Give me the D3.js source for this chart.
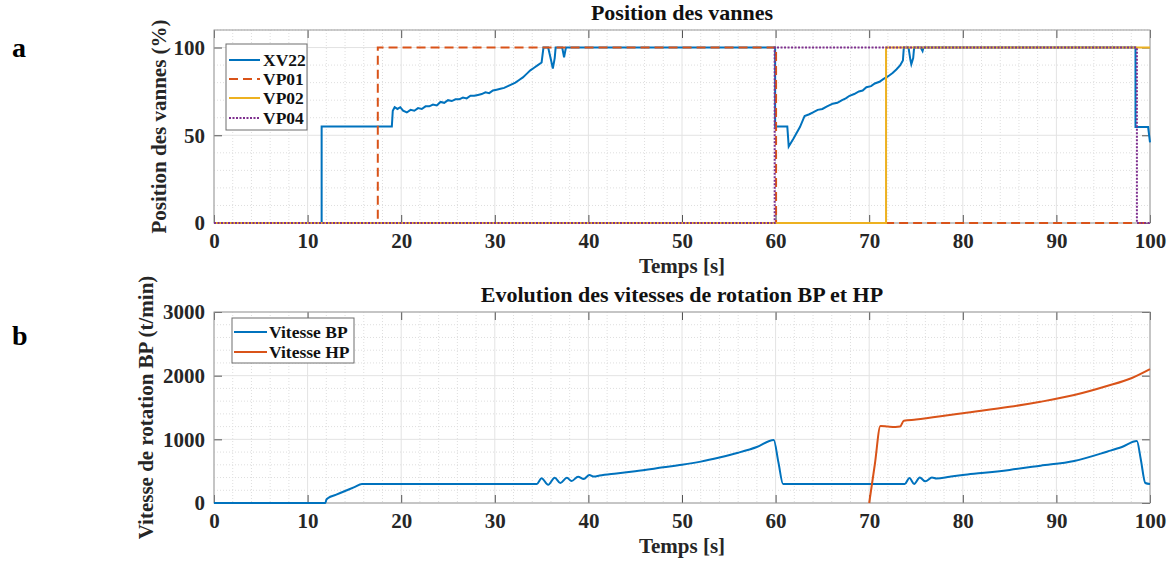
<!DOCTYPE html>
<html>
<meta charset='utf-8'>
<head>
<title>Position des vannes / vitesses</title>
<script src='https://d3js.org/d3.v7.min.js'></script>
<style>
  body { margin: 0; background: #fff; }
  text { font-family: 'Liberation Serif', 'Times New Roman', serif; font-weight: bold; }
</style>
</head>
<body>
<div id='chart'></div>
<script>
// ---- data ----
var xTicks = [0, 10, 20, 30, 40, 50, 60, 70, 80, 90, 100]
var topYTicks = [0, 50, 100]
var botYTicks = [0, 1000, 2000, 3000]

var xv22 = [[0,0],[11.5,0],[11.5,55],[19.0,55],[19.1,64],[19.3,66],[19.6,65],[19.9,66],[20.2,64],[20.6,63],
  [21.0,64.5],[21.4,64],[21.8,65.5],[22.2,65],[22.6,66.5],[23.0,66.5],[23.4,67.5],[23.8,67],[24.2,69],[24.6,68.5],
  [25.0,70],[25.4,69.5],[25.8,70.5],[26.2,70.5],[26.6,71.5],[27.0,71],[27.4,72.5],[27.8,72.5],[28.2,73],[28.6,73.5],
  [29.0,74.5],[29.4,74],[29.8,75.5],[30.2,76],[30.6,76.5],[31.0,77],[31.4,78],[31.8,79],[32.2,80],[32.6,81.5],
  [33.0,83],[33.4,85],[33.8,87],[34.2,88.5],[34.6,90],[35.0,91.5],[35.2,100],[35.7,100],[36.0,93],[36.2,88],
  [36.4,94],[36.5,100],[37.2,100],[37.4,94.5],[37.6,100],
  [59.95,100],[59.95,55],[61.25,55],[61.4,43.6],[61.9,48],[62.6,54.7],[63.1,61],[63.6,62],[64.0,63],[64.5,64.5],
  [65.0,65],[65.5,66.5],[66.1,68],[66.6,68.5],[67.1,70],[67.5,71],[67.9,72.5],[68.4,73.5],[68.9,75],[69.3,75.5],
  [69.7,77.4],[70.2,78],[70.6,79.5],[71.1,80.5],[71.5,82],[72.0,83.5],[72.5,85.5],[72.9,87.5],[73.3,89.8],[73.6,92.6],
  [73.7,100],[74.2,100],[74.4,93],[74.5,90.5],[74.7,94],[74.8,100],[75.5,100],[75.7,98],[75.8,100],
  [98.45,100],[98.45,54.7],[99.8,54.7],[100,46]]
var vp01 = [[0,0],[17.5,0],[17.5,100],[60.05,100],[60.05,0],[100,0]]
var vp02 = [[0,0],[71.8,0],[71.8,100],[100,100]]
var vp04 = [[0,0],[59.9,0],[59.9,100],[98.6,100],[98.6,0],[100,0]]

var vitesseBP = [[0,0],[11.75,0],[11.9,0],[12.0,50],[12.2,78],[13.0,127],[14.0,189],[15.0,250],[15.8,300],
  [34.5,300],[35.0,390],[35.7,285],[36.4,397],
  [37.0,314],[37.7,397],[38.2,345],[38.9,413],[39.5,376],[40.1,440],[40.6,415],[41.2,432],[43,465],[45,500],
  [48,560],[50,600],[52,650],[54,715],[56,790],[58,880],[59.8,990],[60.3,640],[60.8,298],[73.8,298],[74.3,392],[74.8,300],
  [75.4,400],[76.0,340],[76.7,400],[77.2,385],[78.6,413],[80,440],[82,470],[85,520],[88.3,586],[91.9,660],
  [95.4,806],[97,880],[98.6,973],[99.0,700],[99.5,314],[100,298]]
var vitesseHP = [[70.0,0],[70.6,605],[71.2,1209],[72.0,1200],[72.8,1194],[73.3,1200],[73.7,1292],[75,1310],[78.6,1381],
  [80,1410],[85,1510],[88.3,1590],[91.9,1695],[95.4,1837],[98,1960],[100,2103]]

var blue = '#0072BD', orange = '#D95319', yellow = '#EDB120', purple = '#7E2F8E'

var svg = d3.select('#chart').append('svg')
  .attr('width', 1176).attr('height', 565)

var x = d3.scaleLinear().domain([0, 100]).range([214, 1150])

function panel(top, bottom, ymax, yTicks, yMinor, title, ylabel, ylabelX) {
  var y = d3.scaleLinear().domain([0, ymax]).range([bottom, top])
  var g = svg.append('g')

  // minor grid
  g.selectAll('.mx').data(d3.range(0, 101, 2).filter(function(d){ return d % 10 })).enter()
    .append('line')
    .attr('x1', function(d){ return x(d) }).attr('x2', function(d){ return x(d) })
    .attr('y1', top).attr('y2', bottom)
    .attr('stroke', '#dedede').attr('stroke-dasharray', '1,2')
  g.selectAll('.my').data(d3.range(0, ymax + 1, yMinor).filter(function(d){ return yTicks.indexOf(d) < 0 })).enter()
    .append('line')
    .attr('x1', x(0)).attr('x2', x(100))
    .attr('y1', function(d){ return y(d) }).attr('y2', function(d){ return y(d) })
    .attr('stroke', '#dedede').attr('stroke-dasharray', '1,2')
  // major grid
  g.selectAll('.gx').data(xTicks).enter().append('line')
    .attr('x1', function(d){ return x(d) }).attr('x2', function(d){ return x(d) })
    .attr('y1', top).attr('y2', bottom)
    .attr('stroke', '#e3e3e3')
  g.selectAll('.gy').data(yTicks).enter().append('line')
    .attr('x1', x(0)).attr('x2', x(100))
    .attr('y1', function(d){ return y(d) }).attr('y2', function(d){ return y(d) })
    .attr('stroke', '#e3e3e3')

  // axes, ticks pointing inward
  var ax = g.append('g').attr('transform', 'translate(0,' + bottom + ')')
    .call(d3.axisBottom(x).tickValues(xTicks).tickFormat(d3.format('d')).tickSizeInner(-8).tickSizeOuter(0).tickPadding(10))
  var ay = g.append('g').attr('transform', 'translate(' + x(0) + ',0)')
    .call(d3.axisLeft(y).tickValues(yTicks).tickFormat(d3.format('d')).tickSizeInner(-8).tickSizeOuter(0).tickPadding(9))
  var at = g.append('g').attr('transform', 'translate(0,' + top + ')')
    .call(d3.axisTop(x).tickValues(xTicks).tickSizeInner(-8).tickSizeOuter(0).tickFormat(''))
  var ar = g.append('g').attr('transform', 'translate(' + x(100) + ',0)')
    .call(d3.axisRight(y).tickValues(yTicks).tickSizeInner(-8).tickSizeOuter(0).tickFormat(''))
  ;[ax, ay, at, ar].forEach(function(a) {
    a.select('.domain').remove()
    a.selectAll('line').attr('stroke', '#555')
    a.selectAll('text').attr('font-size', 21).attr('fill', '#262626')
      .attr('font-family', "'Liberation Serif', serif").attr('font-weight', 'bold')
  })

  g.append('rect').attr('x', x(0)).attr('y', top)
    .attr('width', x(100) - x(0)).attr('height', bottom - top)
    .attr('fill', 'none').attr('stroke', '#9a9a9a')

  g.append('text').attr('x', 682).attr('y', top - 10).attr('text-anchor', 'middle')
    .attr('font-size', 22).attr('fill', '#111').text(title)
  g.append('text').attr('x', 682).attr('y', bottom + 50).attr('text-anchor', 'middle')
    .attr('font-size', 21).attr('fill', '#262626').text('Temps [s]')
  g.append('text').attr('transform', 'translate(' + ylabelX + ',' + ((top + bottom) / 2) + ') rotate(-90)')
    .attr('text-anchor', 'middle').attr('font-size', 21).attr('fill', '#262626').text(ylabel)
  return { g: g, y: y }
}

function drawLine(p, data, color, dash, curve) {
  var line = d3.line()
    .x(function(d){ return x(d[0]) })
    .y(function(d){ return p.y(d[1]) })
    .curve(curve || d3.curveLinear)
  p.g.append('path').datum(data)
    .attr('d', line)
    .attr('fill', 'none').attr('stroke', color).attr('stroke-width', 2)
    .attr('stroke-dasharray', dash || null)
}

function legend(p, bx, by, bw, bh, items, rowY, lx0, lx1, tx) {
  p.g.append('rect').attr('x', bx).attr('y', by).attr('width', bw).attr('height', bh)
    .attr('fill', '#fff').attr('stroke', '#6e6e6e')
  items.forEach(function(it, i) {
    p.g.append('line').attr('x1', lx0).attr('x2', lx1).attr('y1', rowY[i]).attr('y2', rowY[i])
      .attr('stroke', it[1]).attr('stroke-width', 2).attr('stroke-dasharray', it[2] || null)
    p.g.append('text').attr('x', tx).attr('y', rowY[i]).attr('dy', '0.35em')
      .attr('font-size', 17.5).attr('fill', '#111').text(it[0])
  })
}

// ---- panel a ----
var pa = panel(30, 223, 110, topYTicks, 10, 'Position des vannes', 'Position des vannes (%)', 166)
drawLine(pa, xv22, blue)
drawLine(pa, vp01, orange, '9,5')
drawLine(pa, vp02, yellow)
drawLine(pa, vp04, purple, '2,1.5')
legend(pa, 226, 44, 81, 86,
  [['XV22', blue], ['VP01', orange, '9,5'], ['VP02', yellow], ['VP04', purple, '2,1.5']],
  [60, 79, 98, 118], 229, 260, 263)

// ---- panel b ----
var pb = panel(312, 503, 3000, botYTicks, 200, 'Evolution des vitesses de rotation BP et HP',
  'Vitesse de rotation BP (t/min)', 153)
drawLine(pb, vitesseBP, blue, null, d3.curveMonotoneX)
drawLine(pb, vitesseHP, orange, null, d3.curveMonotoneX)
legend(pb, 232, 318, 122, 45, [['Vitesse BP', blue], ['Vitesse HP', orange]], [332, 352], 234, 267, 269)

svg.append('text').attr('x', 12).attr('y', 57).attr('font-size', 28).attr('fill', '#000').text('a')
svg.append('text').attr('x', 12).attr('y', 345).attr('font-size', 28).attr('fill', '#000').text('b')
</script>
</body>
</html>
